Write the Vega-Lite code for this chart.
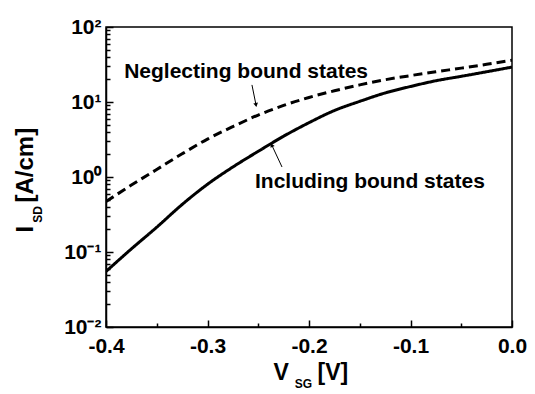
{
  "$schema": "https://vega.github.io/schema/vega-lite/v6.json",
  "width": 406,
  "height": 300,
  "autosize": {"type": "none"},
  "padding": {"left": 106, "top": 27, "right": 23, "bottom": 67},
  "background": "white",
  "config": {
    "view": {"stroke": "#000", "strokeWidth": 1.5},
    "font": "Liberation Sans"
  },
  "datasets": {
    "curves": [
      {"V": -0.4, "I": 0.055, "series": "Including bound states"},
      {"V": -0.375, "I": 0.11, "series": "Including bound states"},
      {"V": -0.35, "I": 0.214, "series": "Including bound states"},
      {"V": -0.325, "I": 0.43, "series": "Including bound states"},
      {"V": -0.3, "I": 0.8, "series": "Including bound states"},
      {"V": -0.275, "I": 1.36, "series": "Including bound states"},
      {"V": -0.25, "I": 2.2, "series": "Including bound states"},
      {"V": -0.225, "I": 3.5, "series": "Including bound states"},
      {"V": -0.2, "I": 5.3, "series": "Including bound states"},
      {"V": -0.175, "I": 7.7, "series": "Including bound states"},
      {"V": -0.15, "I": 10.2, "series": "Including bound states"},
      {"V": -0.125, "I": 13.2, "series": "Including bound states"},
      {"V": -0.1, "I": 16.1, "series": "Including bound states"},
      {"V": -0.075, "I": 19.2, "series": "Including bound states"},
      {"V": -0.05, "I": 22.0, "series": "Including bound states"},
      {"V": -0.025, "I": 25.3, "series": "Including bound states"},
      {"V": 0.0, "I": 29.2, "series": "Including bound states"},
      {"V": -0.4, "I": 0.47, "series": "Neglecting bound states"},
      {"V": -0.375, "I": 0.78, "series": "Neglecting bound states"},
      {"V": -0.35, "I": 1.26, "series": "Neglecting bound states"},
      {"V": -0.325, "I": 2.04, "series": "Neglecting bound states"},
      {"V": -0.3, "I": 3.2, "series": "Neglecting bound states"},
      {"V": -0.275, "I": 4.7, "series": "Neglecting bound states"},
      {"V": -0.25, "I": 6.7, "series": "Neglecting bound states"},
      {"V": -0.225, "I": 9.0, "series": "Neglecting bound states"},
      {"V": -0.2, "I": 11.5, "series": "Neglecting bound states"},
      {"V": -0.175, "I": 14.1, "series": "Neglecting bound states"},
      {"V": -0.15, "I": 16.9, "series": "Neglecting bound states"},
      {"V": -0.125, "I": 19.8, "series": "Neglecting bound states"},
      {"V": -0.1, "I": 22.5, "series": "Neglecting bound states"},
      {"V": -0.075, "I": 25.3, "series": "Neglecting bound states"},
      {"V": -0.05, "I": 28.3, "series": "Neglecting bound states"},
      {"V": -0.025, "I": 31.8, "series": "Neglecting bound states"},
      {"V": 0.0, "I": 36.0, "series": "Neglecting bound states"}
    ],
    "arrows": [
      {"series": "Neglecting bound states", "V": -0.2562, "I": 16.9, "V2": -0.2522, "I2": 9.12},
      {"series": "Including bound states", "V": -0.2266, "I": 1.36, "V2": -0.2367, "I2": 2.67}
    ],
    "labels": [
      {"label": "Neglecting bound states", "V": -0.262, "I": 20.9},
      {"label": "Including bound states", "V": -0.14, "I": 0.713}
    ]
  },
  "layer": [
    {
      "data": {"name": "curves"},
      "mark": {"type": "line", "strokeWidth": 3, "color": "black", "clip": true, "interpolate": "monotone"},
      "encoding": {
        "x": {
          "field": "V", "type": "quantitative",
          "scale": {"domain": [-0.4, 0], "nice": false, "zero": false},
          "axis": {
            "orient": "bottom",
            "values": [-0.4, -0.35, -0.3, -0.25, -0.2, -0.15, -0.1, -0.05, 0],
            "labelExpr": "abs(datum.value*10 - round(datum.value*10)) < 1e-6 ? (datum.value < -1e-9 ? '-' : '') + format(abs(datum.value), '.1f') : ''",
            "tickSize": {"condition": {"test": "abs(datum.value*10 - round(datum.value*10)) < 1e-6", "value": -7}, "value": -4},
            "tickColor": "black", "tickWidth": 1.5,
            "domainColor": "black", "domainWidth": 1.5,
            "grid": false,
            "labelFont": "Liberation Sans", "labelFontWeight": "bold", "labelFontSize": 21, "labelColor": "black",
            "labelPadding": 15, "labelFlush": false, "labelOverlap": false,
            "title": "V",
            "titleFont": "Liberation Sans", "titleFontWeight": "bold", "titleFontSize": 23, "titleColor": "black",
            "titleX": 167, "titleY": 52, "titleAlign": "left", "titleBaseline": "alphabetic"
          }
        },
        "y": {
          "field": "I", "type": "quantitative",
          "scale": {"type": "log", "domain": [0.01, 100], "nice": false},
          "axis": {
            "orient": "left",
            "values": [0.01, 0.02, 0.03, 0.04, 0.05, 0.06, 0.07, 0.08, 0.09, 0.1, 0.2, 0.3, 0.4, 0.5, 0.6, 0.7, 0.8, 0.9, 1, 2, 3, 4, 5, 6, 7, 8, 9, 10, 20, 30, 40, 50, 60, 70, 80, 90, 100],
            "labelExpr": "abs(datum.value-100)<1e-9 ? '10²' : abs(datum.value-10)<1e-9 ? '10¹' : abs(datum.value-1)<1e-9 ? '10⁰' : abs(datum.value-0.1)<1e-9 ? '10⁻¹' : abs(datum.value-0.01)<1e-9 ? '10⁻²' : ''",
            "tickSize": {"condition": {"test": "abs(log(datum.value)/LN10 - round(log(datum.value)/LN10)) < 1e-6", "value": -7}, "value": -4},
            "tickColor": "black", "tickWidth": 1.5,
            "domainColor": "black", "domainWidth": 1.5,
            "grid": false,
            "labelFont": "Liberation Sans", "labelFontWeight": "bold", "labelFontSize": 21, "labelColor": "black",
            "labelPadding": 12, "labelFlush": false, "labelOverlap": false,
            "title": "I",
            "titleFont": "Liberation Sans", "titleFontWeight": "bold", "titleFontSize": 24, "titleColor": "black",
            "titleX": -74, "titleY": 205, "titleAngle": 270, "titleAlign": "left", "titleBaseline": "alphabetic"
          }
        },
        "detail": {"field": "series", "type": "nominal"},
        "strokeDash": {
          "field": "series", "type": "nominal",
          "scale": {"domain": ["Including bound states", "Neglecting bound states"], "range": [[1, 0], [9, 5]]},
          "legend": null
        }
      }
    },
    {
      "data": {"name": "arrows"},
      "mark": {"type": "rule", "color": "black", "strokeWidth": 1},
      "encoding": {
        "x": {
          "field": "V", "type": "quantitative",
          "axis": {
            "orient": "top", "labels": false, "ticks": false, "domain": false, "grid": false,
            "title": "SG",
            "titleFont": "Liberation Sans", "titleFontWeight": "bold", "titleFontSize": 12, "titleColor": "black",
            "titleX": 197, "titleY": 360, "titleAlign": "center", "titleBaseline": "alphabetic"
          }
        },
        "x2": {"field": "V2"},
        "y": {
          "field": "I", "type": "quantitative",
          "axis": {
            "orient": "right", "labels": false, "ticks": false, "domain": false, "grid": false,
            "title": "SD",
            "titleFont": "Liberation Sans", "titleFontWeight": "bold", "titleFontSize": 12, "titleColor": "black",
            "titleX": -471, "titleY": 187, "titleAngle": 270, "titleAlign": "center", "titleBaseline": "alphabetic"
          }
        },
        "y2": {"field": "I2"}
      }
    },
    {
      "data": {"name": "arrows"},
      "transform": [{"filter": "datum.series === 'Neglecting bound states'"}],
      "mark": {"type": "point", "shape": "triangle-up", "filled": true, "color": "black", "size": 22, "angle": 169, "opacity": 1},
      "encoding": {
        "x": {"field": "V2", "type": "quantitative", "axis": null},
        "y": {"field": "I2", "type": "quantitative", "axis": null}
      }
    },
    {
      "data": {"name": "arrows"},
      "transform": [{"filter": "datum.series === 'Including bound states'"}],
      "mark": {"type": "point", "shape": "triangle-up", "filled": true, "color": "black", "size": 22, "angle": 336, "opacity": 1},
      "encoding": {
        "x": {"field": "V2", "type": "quantitative", "axis": null},
        "y": {"field": "I2", "type": "quantitative", "axis": null}
      }
    },
    {
      "data": {"name": "labels"},
      "mark": {"type": "text", "font": "Liberation Sans", "fontWeight": "bold", "fontSize": 21, "color": "black", "align": "center", "baseline": "alphabetic"},
      "encoding": {
        "x": {
          "field": "V", "type": "quantitative",
          "axis": {
            "orient": "bottom", "labels": false, "ticks": false, "domain": false, "grid": false,
            "title": "[V]",
            "titleFont": "Liberation Sans", "titleFontWeight": "bold", "titleFontSize": 23, "titleColor": "black",
            "titleX": 211, "titleY": 52, "titleAlign": "left", "titleBaseline": "alphabetic"
          }
        },
        "y": {
          "field": "I", "type": "quantitative",
          "axis": {
            "orient": "left", "labels": false, "ticks": false, "domain": false, "grid": false,
            "title": "[A/cm]",
            "titleFont": "Liberation Sans", "titleFontWeight": "bold", "titleFontSize": 24, "titleColor": "black",
            "titleX": -74, "titleY": 175, "titleAngle": 270, "titleAlign": "left", "titleBaseline": "alphabetic"
          }
        },
        "text": {"field": "label"}
      }
    }
  ],
  "resolve": {"axis": {"x": "independent", "y": "independent"}}
}
